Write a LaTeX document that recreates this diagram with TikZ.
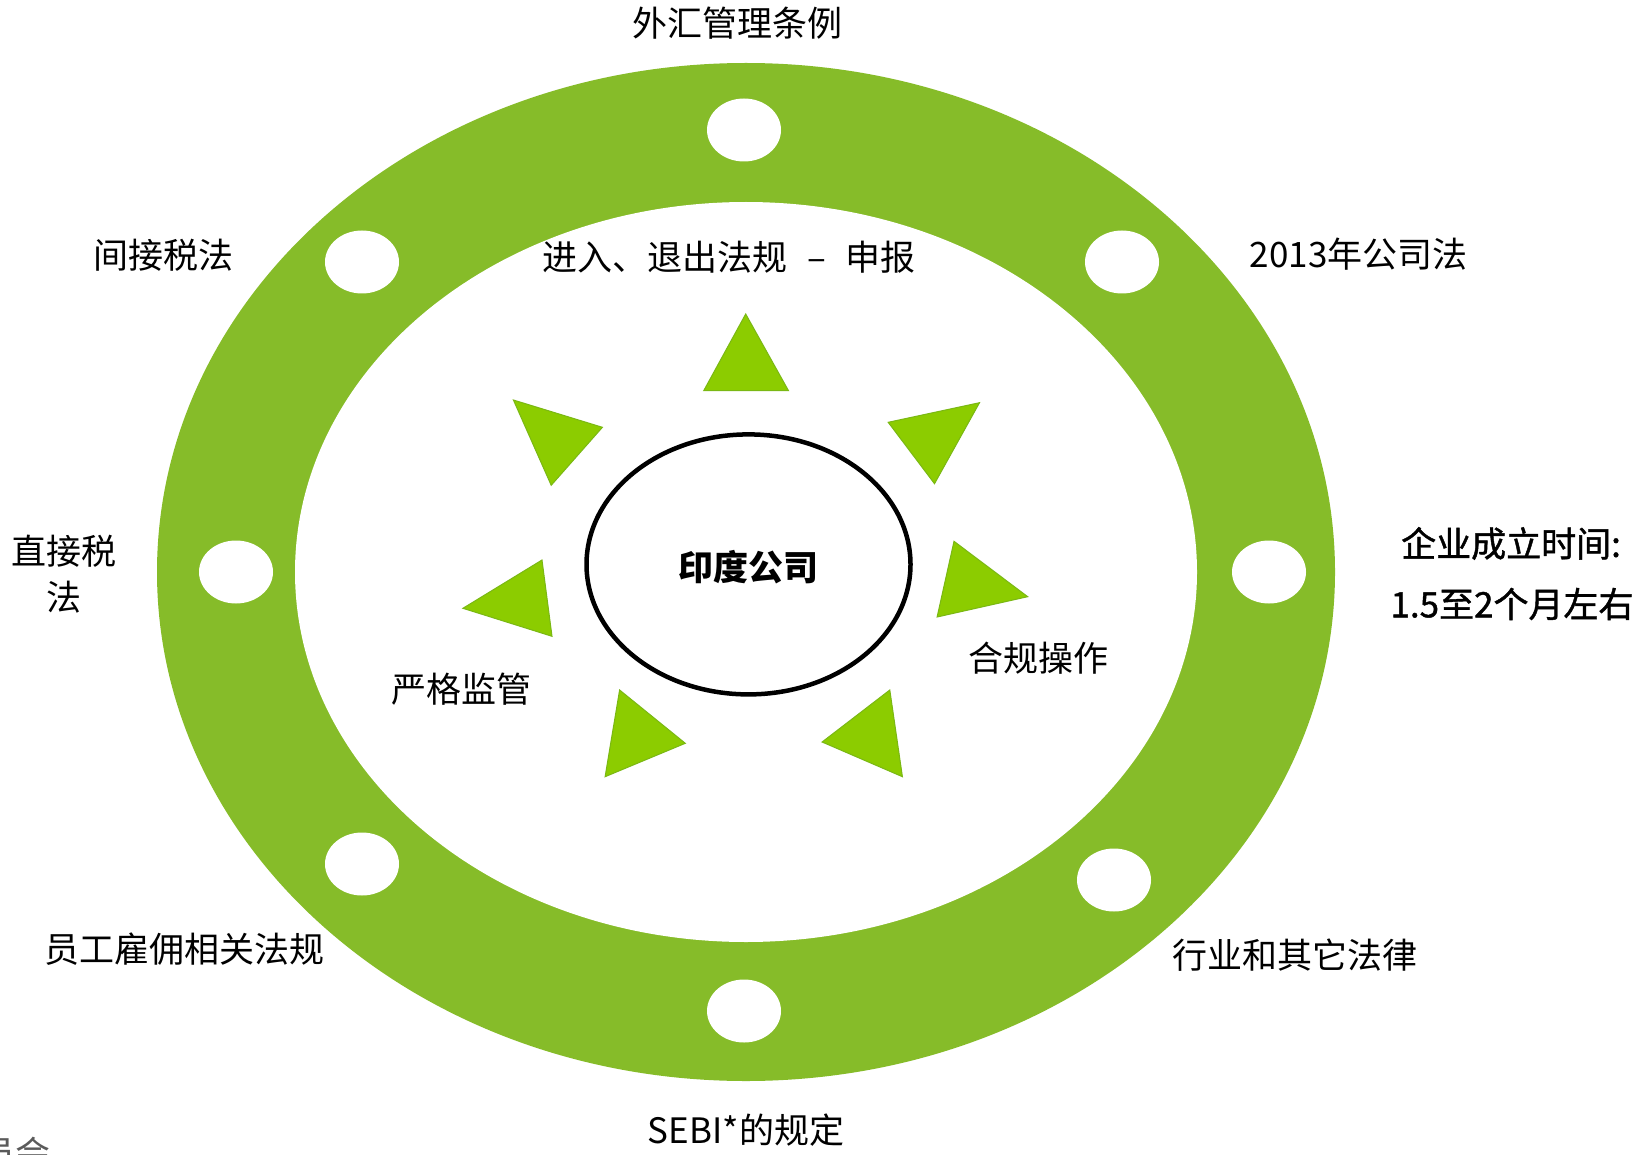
\documentclass[tikz,border=0pt]{standalone}
\usepackage{fontspec}
\setmainfont{Noto Sans CJK SC}
\newfontfamily\cjkmed[FakeBold=1.2]{Noto Sans CJK SC}
\definecolor{ringgreen}{RGB}{134,188,41}
\definecolor{trigreen}{RGB}{140,204,0}
\definecolor{triedge}{RGB}{122,184,20}
\definecolor{notegray}{RGB}{90,90,90}
\tikzset{
  hole/.style={fill=white},
  tri/.style={fill=trigreen, draw=triedge, line width=1pt, line join=miter},
  lbl/.style={font=\fontsize{35pt}{42pt}\selectfont, inner sep=0pt, text=black},
  lblmed/.style={font=\cjkmed\fontsize{35pt}{42pt}\selectfont, inner sep=0pt, text=black},
}
\begin{document}
\begin{tikzpicture}[x=1pt,y=-1pt]
\useasboundingbox (0,0) rectangle (1645,1155);
\fill[white] (0,0) rectangle (1645,1155);
% ring
\fill[ringgreen] (746,572) ellipse [x radius=589pt, y radius=509pt];
\fill[white] (746,572) ellipse [x radius=451pt, y radius=370pt];
% holes
\foreach \n/\x/\y in {h1/744/130, h2/362/262, h3/1122/262, h4/236/572, h5/1269/572, h6/362/864, h7/1114/880, h8/744/1011}{
  \fill[hole] (\x,\y) ellipse [x radius=37pt, y radius=31.5pt];
}
% triangles
\filldraw[tri] (745.7,314) -- (788.5,390.7) -- (703.7,390.7) -- cycle;
\filldraw[tri] (513.4,400) -- (602.4,427.3) -- (551.2,485.3) -- cycle;
\filldraw[tri] (888.2,422.3) -- (979.5,402.7) -- (934.5,483.7) -- cycle;
\filldraw[tri] (954,541.3) -- (1027.7,596.7) -- (937.1,617) -- cycle;
\filldraw[tri] (462.9,608.3) -- (542,560) -- (552,636.3) -- cycle;
\filldraw[tri] (619.6,690) -- (685.3,743.3) -- (605.1,776.7) -- cycle;
\filldraw[tri] (889.8,690) -- (822.1,742) -- (902.4,776.7) -- cycle;
% center
\draw[line width=4.5pt, fill=white] (748.5,564.4) ellipse [x radius=162pt, y radius=130pt];
\node[lbl, font=\bfseries\fontsize{35pt}{42pt}\selectfont] (center) at (748,567.6) {印度公司};
% labels
\node[lbl] (t1) at (737.5,23) {外汇管理条例};
\node[lbl] (t2) at (163.7,255) {间接税法};
\node[lbl] (t3) at (729,257) {进入、退出法规\hspace{20pt}–\hspace{20pt}申报};
\node[lbl] (t4) at (1358.6,254) {2013年公司法};
\node[lbl] (t5a) at (64,551) {直接税};
\node[lbl] (t5b) at (64,597) {法};
\node[lblmed] (t6a) at (1511,543.5) {企业成立时间:};
\node[lblmed] (t6b) at (1512,604) {1.5至2个月左右};
\node[lbl] (t7) at (1038.6,657.8) {合规操作};
\node[lbl] (t8) at (461.6,689.3) {严格监管};
\node[lbl] (t9) at (184.6,949.4) {员工雇佣相关法规};
\node[lbl] (t10) at (1294.6,954.7) {行业和其它法律};
\node[lbl] (t11) at (746,1129.9) {SEBI*的规定};
\node[lbl, text=notegray, anchor=east] (note) at (51,1153) {员会};
\end{tikzpicture}
\end{document}
